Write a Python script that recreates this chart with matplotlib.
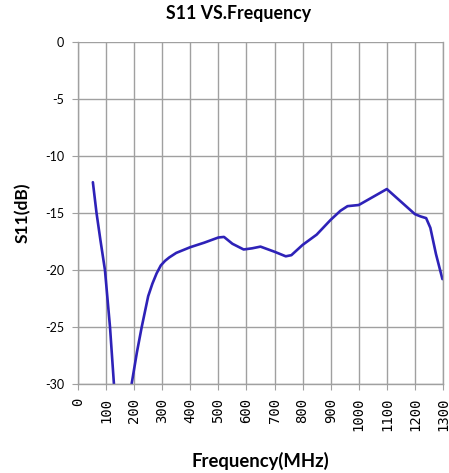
import matplotlib
matplotlib.use("Agg")
import matplotlib.pyplot as plt

# Data
freq_mhz = [53, 66, 80, 96, 114, 128, 150, 175, 191, 210, 227, 250, 265, 280, 295, 310,
            325, 350, 400, 450, 500, 520, 550, 590, 620, 650, 700, 740, 760, 800,
            850, 900, 935, 960, 1000, 1050, 1100, 1150, 1200, 1220, 1240, 1255, 1275, 1298]
s11_db = [-12.3, -15.0, -17.4, -20.0, -25.0, -30.0, -40.0, -38.0, -30.0, -27.2, -25.0,
          -22.3, -21.2, -20.3, -19.6, -19.2, -18.9, -18.5, -18.0, -17.6, -17.15, -17.1, -17.7,
          -18.2, -18.1, -17.95, -18.4, -18.8, -18.7, -17.8, -16.9, -15.6, -14.8, -14.4,
          -14.3, -13.6, -12.9, -14.0, -15.1, -15.3, -15.45, -16.3, -18.6, -20.8]
x_ticks = list(range(0, 1301, 100))
y_ticks = [0, -5, -10, -15, -20, -25, -30]

plt.rcParams['font.family'] = ['Lato', 'DejaVu Sans']

fig = plt.figure(figsize=(4.49, 4.73), dpi=100)
ax = fig.add_axes([0.1737, 0.1882, 0.9866 - 0.1737, 0.9112 - 0.1882])

ax.plot(freq_mhz, s11_db, color='#2E22B8', linewidth=1.9,
        solid_capstyle='round', solid_joinstyle='round')

ax.set_xlim(0, 1300)
ax.set_ylim(-30, 0)
ax.set_xticks(x_ticks)
ax.set_xticklabels([str(t) for t in x_ticks], rotation=90, fontsize=10,
                   family=['DejaVu Sans Mono'])
ax.set_yticks(y_ticks)
ax.set_yticklabels([str(t) for t in y_ticks], fontsize=9)

ax.grid(True, color='#A0A0A0', linewidth=1.0)
ax.set_axisbelow(True)
for side in ['left', 'bottom', 'right', 'top']:
    ax.spines[side].set_color('#A0A0A0')
    ax.spines[side].set_linewidth(1.0)
ax.spines['top'].set_visible(False)
ax.tick_params(axis='both', direction='out', length=4, color='#A0A0A0',
               labelcolor='#000000')
ax.tick_params(axis='y', pad=6)
ax.tick_params(axis='x', pad=6)

fig.text(238.5 / 449, 1 - 14 / 473, 'S11 VS.Frequency', fontsize=12.8,
         fontweight='bold', ha='center', va='center')
ax.set_xlabel('Frequency(MHz)', fontsize=13.3, fontweight='bold', labelpad=15)
ax.set_ylabel('S11(dB)', fontsize=12.5, fontweight='bold', labelpad=10)

fig.savefig('out.png', dpi=100, facecolor='white')
